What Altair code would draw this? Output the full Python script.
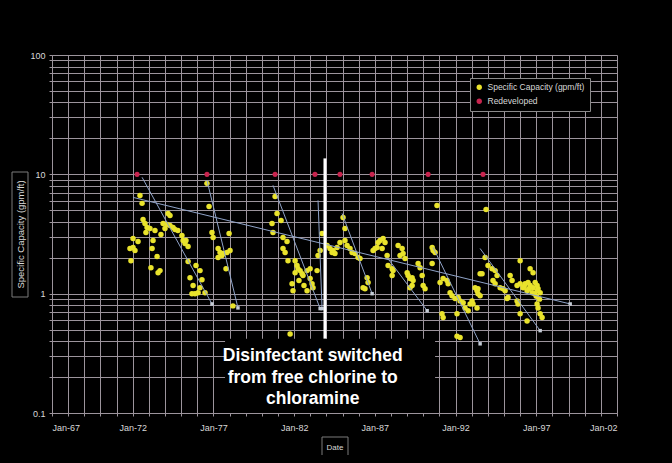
import altair as alt
import pandas as pd

# ---------------- data ----------------
SERIES = "Specific Capacity (gpm/ft)"
REDEV = "Redeveloped"

spec_year = [
    1971.83, 1971.89, 1972.02, 1972.02, 1972.14, 1972.33, 1972.45, 1972.58, 1972.64, 1972.76,
    1972.82, 1972.89, 1973.07, 1973.13, 1973.20, 1973.26, 1973.38, 1973.51, 1973.57, 1973.69,
    1973.75, 1973.88, 1974.00, 1974.13, 1974.19, 1974.31, 1974.31, 1974.50, 1974.62, 1974.80,
    1975.05, 1975.12, 1975.24, 1975.30, 1975.43, 1975.43, 1975.55, 1975.67, 1975.74, 1975.86,
    1975.92, 1976.05, 1976.17, 1976.17, 1976.29, 1976.48,
    1976.60, 1976.73, 1976.91, 1976.98, 1977.29, 1977.29, 1977.41, 1977.53, 1977.60, 1977.78,
    1977.84, 1977.97, 1978.03, 1978.21,
    1980.63, 1980.69, 1980.82, 1980.94, 1981.19, 1981.31, 1981.31, 1981.44, 1981.56, 1981.62,
    1981.75, 1981.87, 1981.93, 1982.06, 1982.06, 1982.18, 1982.24, 1982.30, 1982.37, 1982.49,
    1982.55, 1982.61, 1982.80, 1982.80, 1982.99, 1982.99, 1983.11, 1983.17, 1983.42,
    1983.48, 1983.61, 1983.73, 1984.04, 1984.22, 1984.35, 1984.41, 1984.53, 1984.66, 1984.84,
    1985.03, 1985.15, 1985.15, 1985.28, 1985.46, 1985.59, 1985.77, 1985.96, 1986.08, 1986.27,
    1986.39, 1986.52, 1986.58,
    1986.89, 1987.01, 1987.14, 1987.20, 1987.32, 1987.45, 1987.51, 1987.63, 1987.76, 1987.82,
    1988.07, 1988.07, 1988.13, 1988.44, 1988.56, 1988.69, 1988.75, 1988.87, 1989.00, 1989.06,
    1989.18, 1989.18, 1989.31, 1989.31, 1989.37, 1989.68, 1989.80, 1989.93, 1989.99, 1990.11,
    1990.55, 1990.55, 1990.61, 1990.73, 1990.85, 1991.04, 1991.16, 1991.23, 1991.23, 1991.47,
    1991.54, 1991.66, 1991.78, 1991.97, 1992.09, 1992.09, 1992.16, 1992.28, 1992.28, 1992.47,
    1992.59, 1992.78, 1992.90, 1993.02, 1993.08, 1993.21, 1993.33, 1993.33, 1993.39, 1993.39,
    1993.52, 1993.52,
    1993.64, 1993.83, 1993.89, 1994.01, 1994.26, 1994.32, 1994.45, 1994.45, 1994.57, 1994.76,
    1994.94, 1995.07, 1995.19, 1995.25, 1995.38, 1995.50, 1995.81, 1995.81, 1995.87, 1996.00,
    1996.00, 1996.00, 1996.18, 1996.25, 1996.31, 1996.43, 1996.43, 1996.49, 1996.55, 1996.62,
    1996.62, 1996.74, 1996.80, 1996.80, 1996.90, 1996.93, 1997.00, 1997.05, 1997.05, 1997.05,
    1997.11, 1997.11, 1997.20, 1997.24, 1997.24, 1997.36,
]
spec_value = [
    2.39, 1.89, 2.90, 2.44, 2.30, 2.74, 6.66, 5.71, 4.19, 3.87,
    3.26, 3.59, 3.52, 1.65, 2.39, 2.79, 3.38, 2.05, 1.50, 1.56,
    3.13, 3.87, 3.52, 3.80, 4.70, 4.52, 3.73, 3.59, 3.45, 3.38,
    3.07, 2.79, 2.63, 2.79, 2.48, 1.86, 1.36, 1.00, 1.17, 1.00,
    1.72, 1.02, 1.56, 1.12, 1.31, 1.02,
    8.40, 5.38, 3.26, 2.96, 2.39, 2.01, 2.21, 2.09, 2.17, 1.62,
    2.21, 3.19, 2.30, 0.79,
    3.87, 3.26, 6.53, 4.70, 4.10, 2.96, 2.39, 2.21, 2.74, 1.89,
    0.46, 1.21, 1.06, 1.89, 1.50, 1.72, 1.62, 1.29, 1.56, 1.47,
    1.42, 1.17, 1.56, 1.06, 1.62, 1.34, 1.21, 1.12, 1.56,
    2.09, 2.30, 3.19, 2.53, 2.39, 2.21, 2.30, 2.17, 2.44, 2.68,
    4.35, 3.52, 2.79, 2.53, 2.39, 2.21, 2.17, 2.01, 1.97, 1.12,
    1.10, 1.36, 1.24,
    2.30, 2.39, 2.44, 2.68, 2.79, 2.39, 2.90, 2.68, 2.09, 1.72,
    1.62, 1.42, 1.56, 2.53, 2.09, 2.39, 2.17, 1.97, 1.50, 1.42,
    1.34, 1.12, 1.36, 1.17, 1.29, 1.79, 1.65, 1.42, 1.17, 1.10,
    2.44, 1.79, 2.30, 2.21, 5.49, 1.24, 0.68, 1.34, 0.63, 1.29,
    1.21, 1.02, 0.96, 0.91, 0.68, 0.44, 0.93, 0.87, 0.43, 0.84,
    0.76, 0.72, 0.82, 0.87, 0.82, 1.12, 1.06, 0.76, 1.10, 1.00,
    0.96, 1.47,
    1.47, 2.01, 5.08, 1.72, 1.62, 1.29, 1.56, 1.21, 1.42, 1.12,
    1.10, 1.06, 0.91, 0.93, 1.42, 1.29, 1.17, 0.87, 0.82, 1.89,
    1.21, 0.68, 1.12, 1.15, 1.21, 1.06, 0.59, 1.24, 1.10, 1.62,
    1.17, 1.02, 1.50, 1.12, 1.00, 1.24, 0.95, 1.17, 1.06, 0.82,
    1.10, 0.76, 0.90, 1.02, 0.68, 0.63,
]

redev_year = [1972.27, 1976.60, 1980.82, 1983.29, 1984.84, 1986.83, 1990.30, 1993.70]
redev_value = [10, 10, 10, 10, 10, 10, 10, 10]

trend_start_year = [1972.02, 1972.58, 1976.60, 1980.69, 1983.48, 1984.97, 1987.76, 1990.61, 1993.52]
trend_start_value = [6.41, 9.44, 8.91, 8.09, 6.05, 4.70, 2.01, 2.44, 2.39]
trend_end_year = [1999.10, 1976.91, 1978.52, 1983.61, 1983.73, 1986.83, 1990.24, 1993.52, 1997.24]
trend_end_value = [0.82, 0.82, 0.76, 0.75, 0.75, 1.00, 0.72, 0.38, 0.49]

switch_year = [1983.91]
switch_top = [13.6]
switch_bottom = [0.42]

note_lines = ["Disinfectant switched", "from free chlorine to", "chloramine"]
note_year = [1983.15, 1983.15, 1983.15]
note_value = [0.30, 0.197, 0.131]
note_box_year = [1977.72]
note_box_year2 = [1990.73]
note_box_top = [0.42]
note_box_bottom = [0.1]

x_ticks = list(range(1967, 2003))
y_ticks = [0.1, 0.2, 0.3, 0.4, 0.5, 0.6, 0.7, 0.8, 0.9,
           1, 2, 3, 4, 5, 6, 7, 8, 9,
           10, 20, 30, 40, 50, 60, 70, 80, 90, 100]

# ---------------- tables ----------------
spec_df = pd.DataFrame({"year": spec_year, "value": spec_value, "series": SERIES})
redev_df = pd.DataFrame({"year": redev_year, "value": redev_value, "series": REDEV})
trend_df = pd.DataFrame({"year": trend_start_year, "value": trend_start_value,
                         "year2": trend_end_year, "value2": trend_end_value})
trend_end_df = pd.DataFrame({"year": trend_end_year, "value": trend_end_value})
switch_df = pd.DataFrame({"year": switch_year, "value": switch_top, "value2": switch_bottom})
note_df = pd.DataFrame({"year": note_year, "value": note_value, "text": note_lines})
box_df = pd.DataFrame({"year": note_box_year, "year2": note_box_year2,
                       "value": note_box_top, "value2": note_box_bottom})
deco_df = pd.DataFrame({"k": [0]})

FONT = "Liberation Sans"
GRID = "#9c949c"
TXT = "#d8d8d8"

x_scale = alt.Scale(domain=[1967, 2002], nice=False, zero=False)
y_scale = alt.Scale(type="log", domain=[0.1, 100], nice=False)

color_scale = alt.Scale(domain=[SERIES, REDEV], range=["#e9e32c", "#c8244e"])

x_axis = alt.Axis(
    values=x_ticks, grid=True, gridColor=GRID, gridWidth=1,
    labelExpr="(datum.value % 5 == 2) ? 'Jan-' + substring(toString(datum.value), 2, 4) : ''",
    labelOverlap=False, labelColor=TXT, labelFont=FONT, labelFontSize=9, labelPadding=7,
    tickSize=3, tickColor=GRID, domainColor=GRID,
    title="Date", titleColor=TXT, titleFont=FONT, titleFontSize=8,
    titleFontWeight="normal", titleY=30,
)
y_axis = alt.Axis(
    values=y_ticks, grid=True, gridColor=GRID, gridWidth=1,
    labelExpr="datum.value == 0.1 ? '0.1' : datum.value == 1 ? '1' : datum.value == 10 ? '10' : datum.value == 100 ? '100' : ''",
    labelOverlap=False, labelColor=TXT, labelFont=FONT, labelFontSize=9, labelPadding=4,
    tickSize=3, tickColor=GRID, domainColor=GRID,
    title=SERIES, titleColor=TXT, titleFont=FONT, titleFontSize=9.5,
    titleFontWeight="normal", titleX=-27,
)

legend = alt.Legend(
    orient="none", legendX=418, legendY=23, title=None,
    fillColor="black", strokeColor="#8a8a8a", padding=5,
    labelColor=TXT, labelFont=FONT, labelFontSize=8.5,
    symbolSize=28, rowPadding=5, symbolStrokeWidth=0,
)

X = alt.X("year:Q", scale=x_scale, axis=x_axis, title="Date")
Y = alt.Y("value:Q", scale=y_scale, axis=y_axis, title=SERIES)

points = alt.Chart(spec_df).mark_circle(size=30, opacity=1).encode(
    x=X, y=Y,
    color=alt.Color("series:N", scale=color_scale, legend=legend),
)

redev = alt.Chart(redev_df).mark_circle(size=26, opacity=1).encode(
    x=X, y=Y,
    color=alt.Color("series:N", scale=color_scale, legend=legend),
)

trends = alt.Chart(trend_df).mark_rule(color="#8fa3c8", strokeWidth=1).encode(
    x=X, x2="year2:Q", y=Y, y2="value2:Q",
)

trend_ends = alt.Chart(trend_end_df).mark_square(size=12, color="#c4ccd6", opacity=1).encode(
    x=X, y=Y,
)

box = alt.Chart(box_df).mark_rect(color="black").encode(
    x=X, x2="year2:Q", y=Y, y2="value2:Q",
)

switch = alt.Chart(switch_df).mark_rule(color="white", strokeWidth=3).encode(
    x=X, y=Y, y2="value2:Q",
)

note = alt.Chart(note_df).mark_text(
    color="white", font=FONT, fontSize=17.5, fontWeight="bold", align="center", baseline="middle"
).encode(
    x=X, y=Y, text="text:N",
)

ytitle_box = alt.Chart(deco_df).mark_rect(fill="transparent", stroke="#7a7a7a", strokeWidth=1).encode(
    x=alt.value(-40), x2=alt.value(-24), y=alt.value(117), y2=alt.value(242)
)
xtitle_box = alt.Chart(deco_df).mark_rect(fill="transparent", stroke="#7a7a7a", strokeWidth=1).encode(
    x=alt.value(270), x2=alt.value(296), y=alt.value(382), y2=alt.value(402)
)

chart = alt.layer(
    points, box, trends, trend_ends, redev, switch, note, ytitle_box, xtitle_box
).properties(
    width=565, height=358,
    autosize=alt.AutoSizeParams(type="none"),
    padding={"left": 44, "top": 47, "right": 47, "bottom": 42},
    background="black",
).configure_view(strokeWidth=0)


class _BlackPage:
    def __init__(self, base):
        self.base = base

    def render(self, **kw):
        html = self.base.render(**kw)
        return html.replace("<head>", "<head>\n<style>html, body { background: #000; }</style>", 1)


_base = None
try:
    from altair.utils import html as _h
    _base = getattr(_h, "HTML_TEMPLATE", None)
except Exception:
    _base = None

try:
    if _base is None:
        raise RuntimeError("no template")
    chart.save("out.html", embed_options={"renderer": "svg", "actions": False}, template=_BlackPage(_base))
except Exception:
    chart.save("out.html", embed_options={"renderer": "svg", "actions": False})
